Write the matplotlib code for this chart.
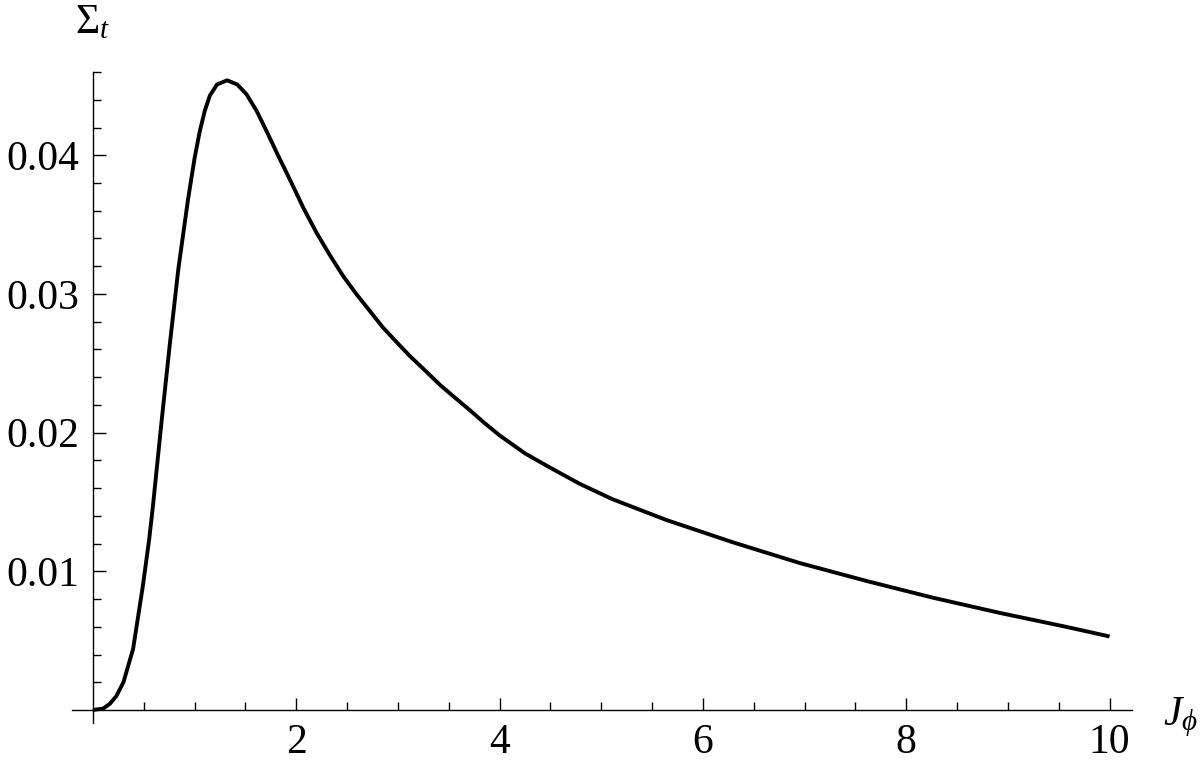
import matplotlib
matplotlib.use("Agg")
import numpy as np
import matplotlib.pyplot as plt

# values
j_phi = [0, 0.1, 0.167, 0.23, 0.30, 0.395, 0.49, 0.553, 0.59, 0.675, 0.755,
         0.84, 0.935, 1.00, 1.05, 1.10, 1.15, 1.22, 1.32, 1.42, 1.51, 1.61,
         1.71, 1.82, 1.94, 2.07, 2.20, 2.33, 2.46, 2.59, 2.72, 2.85, 2.99,
         3.12, 3.25, 3.42, 3.58, 3.71, 3.85, 4.00, 4.25, 4.49, 4.79, 5.11,
         5.64, 6.29, 6.95, 7.61, 8.26, 8.92, 9.57, 10.0]
sigma_t = [0, 0.0001, 0.00045, 0.0010, 0.0020, 0.0044, 0.0089, 0.0123, 0.0147,
           0.0208, 0.0263, 0.0318, 0.0368, 0.0398, 0.0417, 0.0432, 0.0443,
           0.0451, 0.0454, 0.0451, 0.0444, 0.0432, 0.0417, 0.0400, 0.0382,
           0.0362, 0.0344, 0.0328, 0.0313, 0.0300, 0.0288, 0.0276, 0.0265,
           0.0255, 0.0246, 0.0234, 0.0224, 0.0216, 0.0207, 0.0198, 0.0185,
           0.0175, 0.0163, 0.0152, 0.0137, 0.0121, 0.0106, 0.0093, 0.0081,
           0.0070, 0.0060, 0.0053]

x_ticks = [2, 4, 6, 8, 10]
y_ticks = [0.01, 0.02, 0.03, 0.04]
x_minor = np.arange(0.5, 10.01, 0.5)
y_minor = np.arange(0.002, 0.0461, 0.002)

plt.rcParams['font.family'] = 'Liberation Serif'
plt.rcParams['mathtext.fontset'] = 'custom'
plt.rcParams['mathtext.rm'] = 'Liberation Serif'
plt.rcParams['mathtext.it'] = 'Liberation Serif:italic'

fig = plt.figure(figsize=(12, 7.63), dpi=100)
ax = fig.add_axes([0.06, 0.0524, 0.8833, 0.8532])

ax.plot(j_phi, sigma_t, color='black', linewidth=2.8,
        solid_capstyle='butt', solid_joinstyle='round')

ax.set_xlim(-0.206, 10.22)
ax.set_ylim(-0.00094, 0.046)

for s in ['top', 'right']:
    ax.spines[s].set_visible(False)
ax.spines['left'].set_position(('data', 0))
ax.spines['bottom'].set_position(('data', 0))
ax.spines['left'].set_linewidth(1.0)
ax.spines['bottom'].set_linewidth(1.0)

ax.set_xticks(x_ticks)
ax.set_xticklabels([str(v) for v in x_ticks])
ax.set_yticks(y_ticks)
ax.set_yticklabels([f"{v:.2f}" for v in y_ticks])
ax.set_xticks([v for v in x_minor if v not in x_ticks], minor=True)
ax.set_yticks([v for v in y_minor if round(v, 4) not in y_ticks], minor=True)

ax.tick_params(which='major', direction='in', length=9, width=1.0, labelsize=30)
ax.tick_params(which='minor', direction='in', length=5.5, width=1.0)
ax.tick_params(axis='x', which='major', pad=10)
ax.tick_params(axis='y', which='major', pad=10)

fig.text(75 / 1200, 1 - 33 / 763, r'$\Sigma_t$', fontsize=30, ha='left', va='baseline')
fig.text(1163 / 1200, 1 - 725 / 763, r'$J_\phi$', fontsize=30, ha='left', va='baseline')

fig.savefig('out.png', dpi=100)
